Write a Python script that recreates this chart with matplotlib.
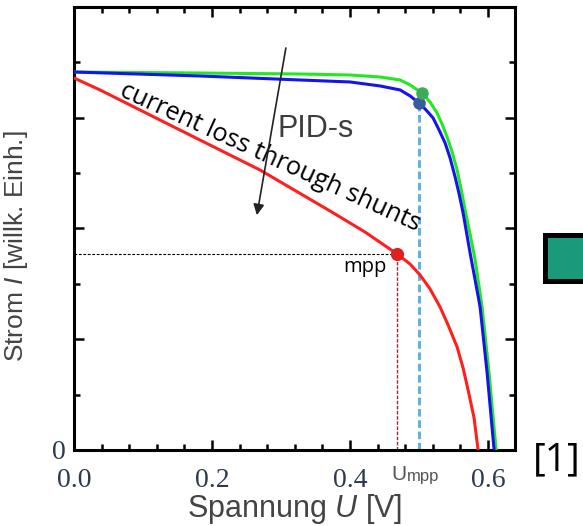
import matplotlib
matplotlib.use("Agg")
import matplotlib.pyplot as plt
import matplotlib.patches as mpatches
import matplotlib.transforms as mtransforms
from matplotlib.ticker import MultipleLocator

# Kennlinien: Spannung U [V], Strom I [willk. Einh.]
u_gruen = [0.0, 0.1826, 0.3275, 0.4000, 0.4435, 0.4725, 0.4870, 0.5043, 0.5159,
           0.5261, 0.5333, 0.5406, 0.5478, 0.5551, 0.5609, 0.5667, 0.5739,
           0.5812, 0.5913, 0.6014, 0.6116]
i_gruen = [3.413, 3.404, 3.395, 3.386, 3.368, 3.341, 3.296, 3.223, 3.142,
           3.043, 2.944, 2.826, 2.691, 2.528, 2.357, 2.167, 1.950,
           1.716, 1.291, 0.695, 0.0]

u_blau = [0.0, 0.1826, 0.3275, 0.4000, 0.4435, 0.4725, 0.4870, 0.5000, 0.5101,
          0.5203, 0.5290, 0.5377, 0.5449, 0.5522, 0.5580, 0.5638, 0.5739,
          0.5812, 0.5884, 0.5986, 0.6087]
i_blau = [3.413, 3.377, 3.341, 3.323, 3.287, 3.251, 3.197, 3.133, 3.070,
          2.998, 2.889, 2.772, 2.637, 2.465, 2.312, 2.140, 1.779,
          1.535, 1.291, 0.695, 0.0]

u_rot = [0.0, 0.0377, 0.1536, 0.2696, 0.3710, 0.4217, 0.4681, 0.4870, 0.5014,
         0.5159, 0.5304, 0.5420, 0.5551, 0.5638, 0.5710, 0.5797, 0.5855]
i_rot = [3.359, 3.251, 2.889, 2.528, 2.158, 1.968, 1.770, 1.679, 1.580,
         1.454, 1.291, 1.129, 0.930, 0.740, 0.542, 0.289, 0.0]

# Maximum-Power-Points (gruen, blau, rot)
mpp_u = [0.5043, 0.5000, 0.4681]
mpp_i = [3.223, 3.133, 1.770]

x_ticks = [0.0, 0.2, 0.4, 0.6]
x_tick_labels = ["0.0", "0.2", "0.4", "0.6"]
y_ticks = [0, 1, 2, 3, 4]
y_tick_labels = ["0", "", "", "", ""]

plt.rcParams["mathtext.fontset"] = "custom"
plt.rcParams["mathtext.rm"] = "Liberation Sans"
plt.rcParams["mathtext.it"] = "Liberation Sans:italic"

fig = plt.figure(figsize=(5.83, 5.26), dpi=100)
ax = fig.add_axes([0.1269, 0.1445, 0.7565, 0.8422])

# Hilfslinien zum MPP
ax.plot([0, mpp_u[2]], [mpp_i[2], mpp_i[2]], color="black", lw=0.8,
        ls=(0, (2.5, 1.5)), zorder=2)
ax.plot([mpp_u[2], mpp_u[2]], [0, mpp_i[2]], color="#a02828", lw=1.0,
        ls=(0, (2.5, 1.2)), zorder=2)
ax.plot([mpp_u[1], mpp_u[1]], [0, mpp_i[1]], color="#5db5d9", lw=2.2,
        ls=(0, (2.5, 1.2)), zorder=2)

# Kennlinien
ax.plot(u_gruen, i_gruen, color="#22e822", lw=2.2, zorder=3,
        solid_joinstyle="round")
ax.plot(u_blau, i_blau, color="#1414ee", lw=2.2, zorder=4,
        solid_joinstyle="round")
ax.plot(u_rot, i_rot, color="#ff1f1f", lw=2.2, zorder=4,
        solid_joinstyle="round")

# MPP-Punkte
ax.plot(mpp_u[1], mpp_i[1], "o", ms=9, color="#3a5b9e", mec="none", zorder=5)
ax.plot(mpp_u[0], mpp_i[0], "o", ms=9, color="#3cab5c", mec="none", zorder=6)
ax.plot(mpp_u[2], mpp_i[2], "o", ms=9.5, color="#e02020", mec="none", zorder=6)

ax.set_xlim(0, 0.639)
ax.set_ylim(0, 4.0)
ax.set_xticks(x_ticks)
ax.set_xticklabels(x_tick_labels)
ax.set_yticks(y_ticks)
ax.set_yticklabels(y_tick_labels)
ax.xaxis.set_minor_locator(MultipleLocator(0.04))
ax.yaxis.set_minor_locator(MultipleLocator(0.5))

ax.tick_params(which="both", direction="in", top=True, right=True,
               width=1.8, color="black")
ax.tick_params(which="major", length=7)
ax.tick_params(which="minor", length=4)
ax.tick_params(axis="x", which="major", pad=13, labelsize=20,
               labelcolor="#2c3a4f", labelfontfamily="Liberation Serif")
ax.tick_params(axis="y", which="major", pad=6, labelsize=20,
               labelcolor="#2c3a4f", labelfontfamily="Liberation Serif")
for sp in ax.spines.values():
    sp.set_linewidth(2.2)

ax.set_xlabel("Spannung $U$ [V]", fontsize=22, family="Liberation Sans",
              color="#444444")
ax.xaxis.set_label_coords(0.5, -0.094)
ax.set_ylabel("Strom $I$ [willk. Einh.]", fontsize=19, family="Liberation Sans",
              color="#444444")
ax.yaxis.set_label_coords(-0.0998, 0.46)

# Beschriftungen im Diagramm
ax.text(0.0638, 3.205, "current loss through shunts", rotation=-24.5,
        rotation_mode="anchor", ha="left", va="baseline", fontsize=18.3,
        family="Open Sans", color="black", zorder=7)
ax.text(0.350, 2.90, "PID-s", ha="center", va="center", fontsize=22,
        family="Liberation Sans", color="#3d3d3d", zorder=7)
ax.text(0.4217, 1.607, "mpp", ha="center", va="baseline", fontsize=14.5,
        family="Open Sans", color="black", zorder=7)
ax.annotate("", xy=(0.265, 2.12), xytext=(0.307, 3.63),
            arrowprops=dict(arrowstyle="-|>", color="#222222", lw=1.2,
                            mutation_scale=16, shrinkA=0, shrinkB=0),
            zorder=7)

# U_mpp unter der Achse
trans = mtransforms.blended_transform_factory(ax.transData, ax.transAxes)
u_txt = ax.text(mpp_u[2] - 0.008, -0.067, "U", transform=trans, ha="left",
                va="baseline", fontsize=15, family="Liberation Sans",
                color="#555555")
ax.annotate("mpp", xy=(1.0, 0.0), xycoords=u_txt, ha="left", va="bottom",
            fontsize=12, family="Liberation Sans", color="#555555")

# Quellenangabe und Kaestchen rechts
fig.text(557 / 583, 1 - 460 / 526, "[1]", ha="center", va="center",
         fontsize=28, family="Open Sans", color="black")
box = mpatches.Rectangle((544.5 / 583, 1 - 280.5 / 526), 60 / 583, 45.5 / 526,
                         transform=fig.transFigure, facecolor="#1a9a7a",
                         edgecolor="black", lw=3.6, clip_on=False)
fig.patches.append(box)

fig.savefig("out.png", dpi=100)
